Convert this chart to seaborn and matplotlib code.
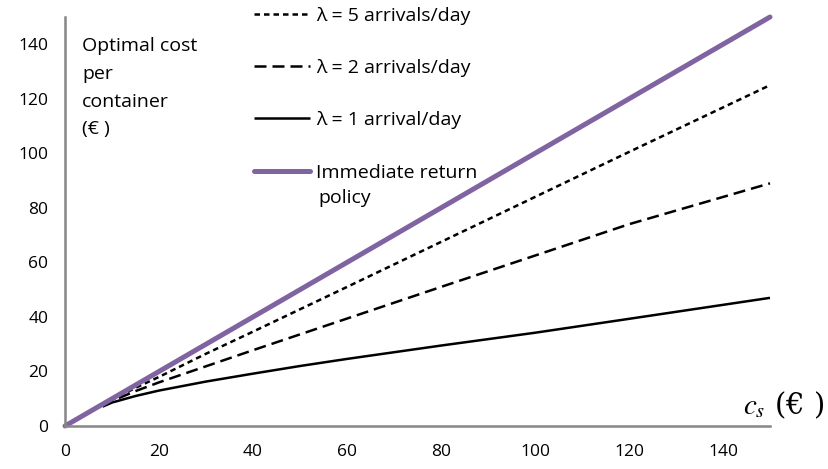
import matplotlib
matplotlib.use("Agg")
import matplotlib.pyplot as plt
import seaborn as sns
import pandas as pd

# Setup cost c_s (EUR) and optimal cost per container for each arrival rate
cs = [8, 10, 15, 20, 30, 40, 50, 60, 80, 100, 120, 150]
lam5 = [7.6, 9.6, 14.0, 18.0, 26.5, 34.6, 42.8, 51.0, 67.5, 84.0, 100.5, 125.0]
lam2 = [7.4, 9.2, 12.8, 16.0, 21.9, 27.8, 33.6, 39.4, 51.0, 62.5, 74.0, 89.0]
lam1 = [7.1, 8.6, 11.0, 13.0, 16.3, 19.2, 22.0, 24.6, 29.5, 34.2, 39.3, 47.0]
# Immediate return policy: cost equals c_s
imm_cs = [0, 150]
imm_cost = [0, 150]

labels = ["λ = 5 arrivals/day", "λ = 2 arrivals/day", "λ = 1 arrival/day", "Immediate return"]
x_ticks = [0, 20, 40, 60, 80, 100, 120, 140]
y_ticks = [0, 20, 40, 60, 80, 100, 120, 140]

sns.set_style("white")
plt.rcParams["font.family"] = ["Open Sans", "DejaVu Sans"]
plt.rcParams["mathtext.fontset"] = "stix"
plt.rcParams["text.color"] = "black"

fig = plt.figure(figsize=(8.29, 4.69), dpi=100)
ax = fig.add_axes([65 / 829, 43 / 469, 705 / 829, 409 / 469])

df5 = pd.DataFrame({"cs": cs, "cost": lam5})
df2 = pd.DataFrame({"cs": cs, "cost": lam2})
df1 = pd.DataFrame({"cs": cs, "cost": lam1})
dfi = pd.DataFrame({"cs": imm_cs, "cost": imm_cost})

sns.lineplot(data=df5, x="cs", y="cost", ax=ax, color="black", lw=1.8, label=labels[0])
sns.lineplot(data=df2, x="cs", y="cost", ax=ax, color="black", lw=1.8, label=labels[1])
sns.lineplot(data=df1, x="cs", y="cost", ax=ax, color="black", lw=1.8, label=labels[2])
sns.lineplot(data=dfi, x="cs", y="cost", ax=ax, color="#8064A2", lw=3.6, label=labels[3])

lines = ax.get_lines()
lines[0].set_dashes([2.2, 1.6])
lines[1].set_dashes([4.8, 2.4])
for ln in lines:
    ln.set_clip_on(False)
    ln.set_solid_capstyle("butt")
    ln.set_dash_capstyle("butt")
lines[3].set_solid_capstyle("round")

ax.set_xlim(0, 150)
ax.set_ylim(0, 150)
ax.set_xticks(x_ticks)
ax.set_yticks(y_ticks)
ax.set_xlabel("")
ax.set_ylabel("")
for side in ["top", "right"]:
    ax.spines[side].set_visible(False)
for side in ["left", "bottom"]:
    ax.spines[side].set_color("#868686")
    ax.spines[side].set_linewidth(1.8)
ax.tick_params(axis="both", direction="out", length=5, width=1.8,
               color="#868686", labelsize=12.5, labelcolor="black")
ax.tick_params(axis="y", pad=7)
ax.tick_params(axis="x", pad=8)

handles, labs = ax.get_legend_handles_labels()
ax.get_legend().remove()
fs = 14
leg = fig.legend(handles, labs, loc="upper left", bbox_to_anchor=(246.5 / 829, 1.002),
                 frameon=False, fontsize=fs, handlelength=2.85, handletextpad=0.35,
                 labelspacing=1.76, borderaxespad=0)
fig.text(318 / 829, 1 - 198 / 469, "policy", fontsize=fs, va="center", ha="left")

fig.text(82 / 829, 1 - 37 / 469, "Optimal cost\nper\ncontainer\n(€ )",
         fontsize=fs, va="top", ha="left", linespacing=1.7)
fig.text(825 / 829, 1 - 405 / 469, r"$c_s$ (€ )", fontsize=21, ha="right", va="center",
         family=["DejaVu Serif"])

fig.savefig("out.png", dpi=100)
